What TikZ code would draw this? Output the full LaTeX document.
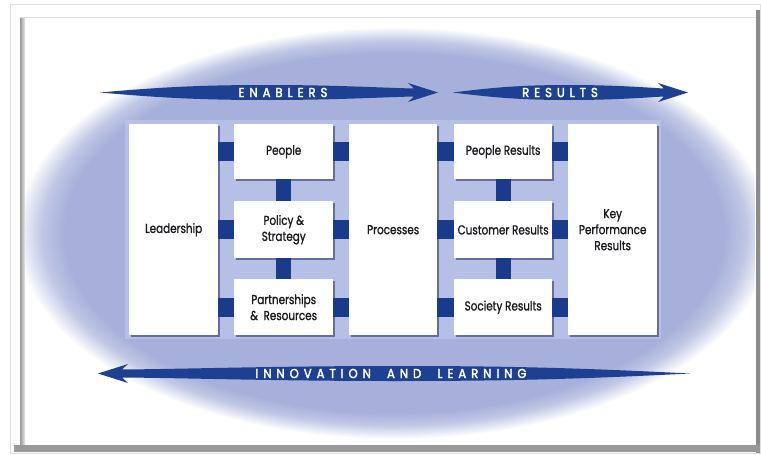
\documentclass[tikz,border=0pt]{standalone}
\usepackage{fontspec}
\setmainfont{Poppins}[FakeStretch=0.8, FakeBold=1]
\newfontfamily\arrowfont{Poppins}[LetterSpace=38,FakeStretch=0.9,FakeBold=2.5]
\usetikzlibrary{shadows}
\definecolor{ellcore}{RGB}{166,176,218}
\definecolor{bandcol}{RGB}{182,191,229}
\definecolor{darkblue}{RGB}{26,58,140}
\definecolor{arrowblue}{RGB}{30,64,146}
\definecolor{shadowcol}{RGB}{100,110,160}
\definecolor{textcol}{RGB}{25,25,30}
\pgfdeclareradialshading{ellfade}{\pgfpointorigin}{color(0bp)=(ellcore); color(21.8bp)=(ellcore); color(23.3bp)=(ellcore!70!white); color(24.3bp)=(ellcore!30!white); color(25bp)=(white); color(50bp)=(white)}
\tikzset{
  box/.style={fill=white, draw=none, inner sep=0pt, anchor=north west, align=center,
    text=textcol, font=\fontsize{13}{16}\selectfont,
    drop shadow={shadow xshift=1.6pt, shadow yshift=-1.6pt, fill=shadowcol, opacity=1}},
  hconn/.style={draw=darkblue, line width=19pt},
  vconn/.style={draw=darkblue, line width=15pt},
  arrowlabel/.style={text=white, font=\arrowfont\fontsize{13}{15}\selectfont, inner sep=0pt}
}
% tail x, tip x, y, direction (1 = right, -1 = left)
\newcommand{\spindlearrow}[4]{%
  \pgfmathsetmacro\La{abs(#2-#1)}%
  \pgfmathsetmacro\Hb{\La-30}%
  \pgfmathsetmacro\Hj{\La-24}%
  \pgfmathsetmacro\Md{\La*0.5}%
  \begin{scope}[shift={(#1,#3)}, xscale=#4]
    \fill[arrowblue] (0,0) .. controls (\La*0.2,-6) and (\La*0.32,-7.5) .. (\Md,-7.5)
      .. controls (\La*0.7,-7.5) and (\La*0.85,-4.5) .. (\Hj,-4)
      -- (\Hb,-9.5) -- (\La,0) -- (\Hb,9.5) -- (\Hj,4)
      .. controls (\La*0.85,4.5) and (\La*0.7,7.5) .. (\Md,7.5)
      .. controls (\La*0.32,7.5) and (\La*0.2,6) .. (0,0) -- cycle;
  \end{scope}}
\begin{document}
\begin{tikzpicture}[x=1pt, y=-1pt]
\useasboundingbox (0,0) rectangle (761,455);
% frame
\fill[white] (0,0) rectangle (761,455);
\draw[black!12, line width=1pt] (10,4) rectangle (760,453);
\fill[black!45] (756,10) rectangle (760,453);
\fill[black!40] (14,445) rectangle (760,452);
\shade[left color=black!40, right color=black!8] (20,17) rectangle (25,444);
\draw[black!12, line width=0.8pt] (20,17) -- (756,17);
% ellipse
\begin{scope}
  \clip (25,18) rectangle (755,444);
  \shade[shading=ellfade] (394,233) ellipse [x radius=378, y radius=206];
\end{scope}
% light band behind the boxes
\fill[bandcol] (125,120) rectangle (661,339);
% boxes
\node[box, minimum width=89pt, minimum height=211pt] (lead) at (129,124) {Leadership};
\node[box, minimum width=99pt, minimum height=55pt] (people) at (234,124) {People};
\node[box, minimum width=99pt, minimum height=57pt] (policy) at (234,201) {Policy \&\\Strategy};
\node[box, minimum width=99pt, minimum height=56pt] (partner) at (234,279) {Partnerships\\\&\ \ Resources};
\node[box, minimum width=88pt, minimum height=211pt] (proc) at (349,124) {Processes};
\node[box, minimum width=98pt, minimum height=55pt] (peopler) at (454,124) {People Results};
\node[box, minimum width=98pt, minimum height=57pt] (custr) at (454,201) {Customer Results};
\node[box, minimum width=98pt, minimum height=56pt] (socr) at (454,279) {Society Results};
\node[box, minimum width=89pt, minimum height=211pt] (kpr) at (568,124) {Key\\Performance\\Results};
% connectors
\foreach \n in {people, policy, partner}{
  \draw[hconn] (lead.east |- \n.west) -- (\n.west);
  \draw[hconn] (\n.east) -- (proc.west |- \n.east);
}
\foreach \n in {peopler, custr, socr}{
  \draw[hconn] (proc.east |- \n.west) -- (\n.west);
  \draw[hconn] (\n.east) -- (kpr.west |- \n.east);
}
\draw[vconn] (people.south) -- (policy.north);
\draw[vconn] (policy.south) -- (partner.north);
\draw[vconn] (peopler.south) -- (custr.north);
\draw[vconn] (custr.south) -- (socr.north);
% big arrows
\spindlearrow{100}{438}{92.5}{1}
\spindlearrow{453}{688}{92.5}{1}
\spindlearrow{690}{98}{373.5}{-1}
\node[arrowlabel] (enab) at (283,92.5) {ENABLERS};
\node[arrowlabel] (res) at (560,92.5) {RESULTS};
\node[arrowlabel] (innov) at (391,373.5) {INNOVATION\ \ AND\ \ LEARNING};
\end{tikzpicture}
\end{document}
